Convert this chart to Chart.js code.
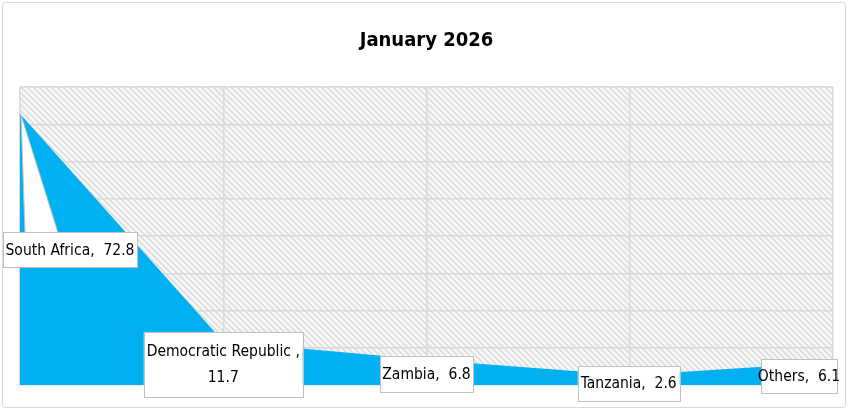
<!DOCTYPE html>
<html>
<head>
<meta charset="utf-8">
<script src="https://cdn.jsdelivr.net/npm/chart.js@4.4.1/dist/chart.umd.min.js"></script>
<style>
    html, body { margin: 0; padding: 0; background: #ffffff; }
    #myChart { display: block; }
</style>
</head>
<body>
<canvas id="myChart" width="848" height="409"></canvas>
<script>
const countries = ['South Africa', 'Democratic Republic ', 'Zambia', 'Tanzania', 'Others'];
const shares = [72.8, 11.7, 6.8, 2.6, 6.1];
const labelLines = [
    ['South Africa,  72.8'],
    ['Democratic Republic ,', '11.7'],
    ['Zambia,  6.8'],
    ['Tanzania,  2.6'],
    ['Others,  6.1']
];

// where each label box sits relative to its point (dx, dy of box centre, width, height)
const labelBoxes = [
    { dx: 50, dy: 136, w: 134, h: 35, callout: true },
    { dx: 0, dy: 23, w: 159, h: 65 },
    { dx: 0, dy: 14, w: 93, h: 36 },
    { dx: -1, dy: 8, w: 102, h: 35 },
    { dx: -34, dy: 14, w: 76, h: 34 }
];

const narrow = '"DejaVu Sans Condensed", "Liberation Sans Narrow", sans-serif';
const labelFont = '15.5px ' + narrow;

function makeHatch(ctx) {
    const c = document.createElement('canvas');
    c.width = 6;
    c.height = 6;
    const p = c.getContext('2d');
    p.fillStyle = '#f7f7f7';
    p.fillRect(0, 0, 6, 6);
    p.strokeStyle = '#d9d9d9';
    p.lineWidth = 1.4;
    p.beginPath();
    p.moveTo(-1, -1); p.lineTo(7, 7);
    p.moveTo(-4, 2); p.lineTo(4, 10);
    p.moveTo(2, -4); p.lineTo(10, 4);
    p.stroke();
    return ctx.createPattern(c, 'repeat');
}

const backdrop = {
    id: 'backdrop',
    beforeDraw(chart) {
        const ctx = chart.ctx;
        const a = chart.chartArea;
        ctx.save();
        ctx.fillStyle = makeHatch(ctx);
        ctx.fillRect(a.left, a.top, a.right - a.left, a.bottom - a.top);
        ctx.restore();
    },
    afterDraw(chart) {
        const ctx = chart.ctx;
        ctx.save();
        ctx.strokeStyle = '#d9d9d9';
        ctx.lineWidth = 1;
        ctx.beginPath();
        ctx.roundRect(2.5, 2.5, chart.width - 5, chart.height - 4, 3);
        ctx.stroke();
        ctx.restore();
    }
};

const boxLabels = {
    id: 'boxLabels',
    afterDatasetsDraw(chart) {
        const ctx = chart.ctx;
        const meta = chart.getDatasetMeta(0);
        ctx.save();
        ctx.font = labelFont;
        ctx.textAlign = 'center';
        ctx.textBaseline = 'middle';
        meta.data.forEach(function (pt, i) {
            const b = labelBoxes[i];
            const cx = pt.x + b.dx;
            const cy = pt.y + b.dy;
            const left = cx - b.w / 2;
            const top = cy - b.h / 2;
            if (b.callout) {
                ctx.beginPath();
                ctx.moveTo(left + 22, top + 1);
                ctx.lineTo(pt.x + 1, pt.y + 1);
                ctx.lineTo(left + 55, top + 1);
                ctx.closePath();
                ctx.fillStyle = '#ffffff';
                ctx.fill();
                ctx.strokeStyle = '#bfbfbf';
                ctx.lineWidth = 1;
                ctx.beginPath();
                ctx.moveTo(left + 22, top);
                ctx.lineTo(pt.x + 1, pt.y + 1);
                ctx.lineTo(left + 55, top);
                ctx.stroke();
            }
            ctx.fillStyle = '#ffffff';
            ctx.fillRect(left, top, b.w, b.h);
            ctx.strokeStyle = '#bfbfbf';
            ctx.lineWidth = 1;
            ctx.strokeRect(Math.round(left) + 0.5, Math.round(top) + 0.5, b.w, b.h);
            ctx.fillStyle = '#000000';
            const lines = labelLines[i];
            const lh = 26;
            lines.forEach(function (t, j) {
                ctx.fillText(t, cx, cy + (j - (lines.length - 1) / 2) * lh + 1);
            });
        });
        ctx.restore();
    }
};

const ctx = document.getElementById('myChart');

const myChart = new Chart(ctx, {
    type: 'line',
    data: {
        labels: countries,
        datasets: [{
            label: 'January 2026',
            data: shares,
            fill: 'origin',
            backgroundColor: '#00b0f0',
            borderWidth: 0,
            pointRadius: 0,
            tension: 0
        }]
    },
    options: {
        responsive: false,
        animation: false,
        layout: {
            padding: { left: 20, right: 15, top: 29, bottom: 24 }
        },
        plugins: {
            legend: { display: false },
            tooltip: { enabled: false },
            title: {
                display: true,
                text: 'January 2026',
                color: '#000000',
                font: { family: narrow, size: 20, weight: 'bold' },
                padding: { top: 0, bottom: 34 }
            }
        },
        scales: {
            x: {
                offset: false,
                ticks: { display: false },
                border: { display: false },
                grid: { color: '#d9d9d9', lineWidth: 1.5, drawTicks: false }
            },
            y: {
                min: 0,
                max: 80,
                ticks: { display: false, stepSize: 10 },
                border: { display: false },
                grid: { color: '#d9d9d9', lineWidth: 1.5, drawTicks: false }
            }
        }
    },
    plugins: [backdrop, boxLabels]
});
</script>
</body>
</html>
